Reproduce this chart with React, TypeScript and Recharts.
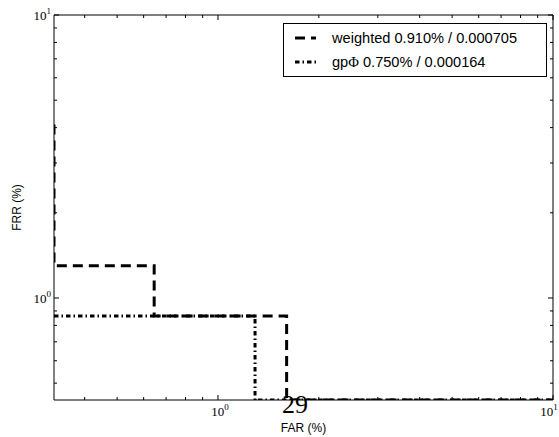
import { LineChart, Line, XAxis, YAxis, Legend, Customized } from "recharts";

// FAR / FRR step curves (percent)
const farTicks = [0.4, 0.5, 0.6, 0.7, 0.8, 0.9, 1, 2, 3, 4, 5, 6, 7, 8, 9, 10];
const frrTicks = [0.5, 0.6, 0.7, 0.8, 0.9, 1, 2, 3, 4, 5, 6, 7, 8, 9, 10];
const farDomain = [0.324, 10];
const frrDomain = [0.436, 10];

const weightedFar = [0.324, 0.324, 0.645, 0.645, 1.603, 1.603, 10];
const weightedFrr = [4.1, 1.3, 1.3, 0.864, 0.864, 0.436, 0.436];
const gpFar = [0.324, 1.29, 1.29, 10];
const gpFrr = [0.864, 0.864, 0.436, 0.436];

const weightedLabel = "weighted 0.910% / 0.000705";
const gpLabel = " 0.750% / 0.000164";
const pageNumber = "29";

const weightedData = weightedFar.map((x, i) => ({ x, y: weightedFrr[i] }));
const gpData = gpFar.map((x, i) => ({ x, y: gpFrr[i] }));

const WEIGHTED_DASH = "10 6";
const GP_DASH = "4.5 3 1.5 3";
const serif = "'Liberation Serif', 'DejaVu Serif', serif";
const sans = "'Liberation Sans', Arial, sans-serif";

const isMajor = (v: number) => Math.abs(Math.log10(v) - Math.round(Math.log10(v))) < 1e-9;

function PowLabel({ x, y, v, anchor }: { x: number; y: number; v: number; anchor: "middle" | "end" }) {
  const exp = Math.round(Math.log10(v));
  return (
    <text x={x} y={y} textAnchor={anchor} fontFamily={serif} fontSize={13} fill="#000">
      10
      <tspan fontSize={9} dy={-6}>{exp}</tspan>
    </text>
  );
}

function makeTick(side: "bottom" | "top" | "left" | "right") {
  return (props: any) => {
    const { x, y, payload } = props;
    const v = payload.value;
    const major = isMajor(v);
    const len = major ? 5 : 3;
    let line;
    if (side === "bottom") line = <line x1={x} y1={y} x2={x} y2={y - len} stroke="#000" />;
    else if (side === "top") line = <line x1={x} y1={y} x2={x} y2={y + len} stroke="#000" />;
    else if (side === "left") line = <line x1={x} y1={y} x2={x + len} y2={y} stroke="#000" />;
    else line = <line x1={x} y1={y} x2={x - len} y2={y} stroke="#000" />;
    // keep the last label inside the page
    const lx = Math.min(x + 2, 549);
    return (
      <g>
        {line}
        {major && side === "bottom" && <PowLabel x={lx} y={y + 16} v={v} anchor="middle" />}
        {major && side === "left" && <PowLabel x={x - 3} y={y + 5} v={v} anchor="end" />}
      </g>
    );
  };
}

function renderLegend() {
  return (
    <svg width={264} height={54}>
      <rect x={0.5} y={0.5} width={263} height={53} fill="#fff" stroke="#000" />
      <line x1={12} y1={15} x2={33} y2={15} stroke="#000" strokeWidth={3} strokeDasharray={WEIGHTED_DASH} />
      <text x={49} y={20} fontFamily={sans} fontSize={14.6} fill="#000">{weightedLabel}</text>
      <line x1={12} y1={39} x2={33} y2={39} stroke="#000" strokeWidth={3} strokeDasharray={GP_DASH} />
      <text x={49} y={44} fontFamily={sans} fontSize={14.6} fill="#000">
        gp<tspan fontFamily={serif}>Φ</tspan>{gpLabel}
      </text>
    </svg>
  );
}

export default function App() {
  return (
    <div style={{ position: "fixed", left: 0, top: 0, background: "#fff" }}>
      <LineChart width={559} height={437} margin={{ top: 0, right: 0, bottom: 0, left: 0 }}>
        <XAxis
          dataKey="x"
          type="number"
          scale="log"
          domain={farDomain}
          allowDataOverflow
          ticks={farTicks}
          interval={0}
          height={37}
          tickSize={0}
          tickMargin={0}
          tickLine={false}
          axisLine={{ stroke: "#000" }}
          tick={makeTick("bottom")}
          label={{ value: "FAR (%)", position: "insideBottom", offset: 5, fill: "#000", fontSize: 12, fontFamily: sans }}
        />
        <XAxis
          xAxisId="top"
          orientation="top"
          dataKey="x"
          type="number"
          scale="log"
          domain={farDomain}
          allowDataOverflow
          ticks={farTicks}
          interval={0}
          height={15}
          tickSize={0}
          tickMargin={0}
          tickLine={false}
          axisLine={{ stroke: "#000" }}
          tick={makeTick("top")}
        />
        <YAxis
          dataKey="y"
          type="number"
          scale="log"
          domain={frrDomain}
          allowDataOverflow
          ticks={frrTicks}
          interval={0}
          width={54}
          tickSize={0}
          tickMargin={0}
          tickLine={false}
          axisLine={{ stroke: "#000" }}
          tick={makeTick("left")}
          label={{ value: "FRR (%)", angle: -90, position: "insideLeft", offset: 17, fill: "#000", fontSize: 12, fontFamily: sans, style: { textAnchor: "middle" } }}
        />
        <YAxis
          yAxisId="right"
          orientation="right"
          type="number"
          scale="log"
          domain={frrDomain}
          allowDataOverflow
          ticks={frrTicks}
          interval={0}
          width={6}
          tickSize={0}
          tickMargin={0}
          tickLine={false}
          axisLine={{ stroke: "#000" }}
          tick={makeTick("right")}
        />
        <Line
          data={weightedData}
          dataKey="y"
          type="linear"
          stroke="#000"
          strokeWidth={3}
          strokeDasharray={WEIGHTED_DASH}
          dot={false}
          activeDot={false}
          isAnimationActive={false}
        />
        <Line
          data={gpData}
          dataKey="y"
          type="linear"
          stroke="#000"
          strokeWidth={3}
          strokeDasharray={GP_DASH}
          dot={false}
          activeDot={false}
          isAnimationActive={false}
        />
        <Legend
          layout="vertical"
          align="center"
          verticalAlign="middle"
          wrapperStyle={{ left: 283, top: 23, width: 264, height: 54 }}
          content={renderLegend}
        />
        <Customized
          component={() => (
            <text x={295} y={413} textAnchor="middle" fontFamily={serif} fontSize={26} fill="#000">
              {pageNumber}
            </text>
          )}
        />
      </LineChart>
    </div>
  );
}
